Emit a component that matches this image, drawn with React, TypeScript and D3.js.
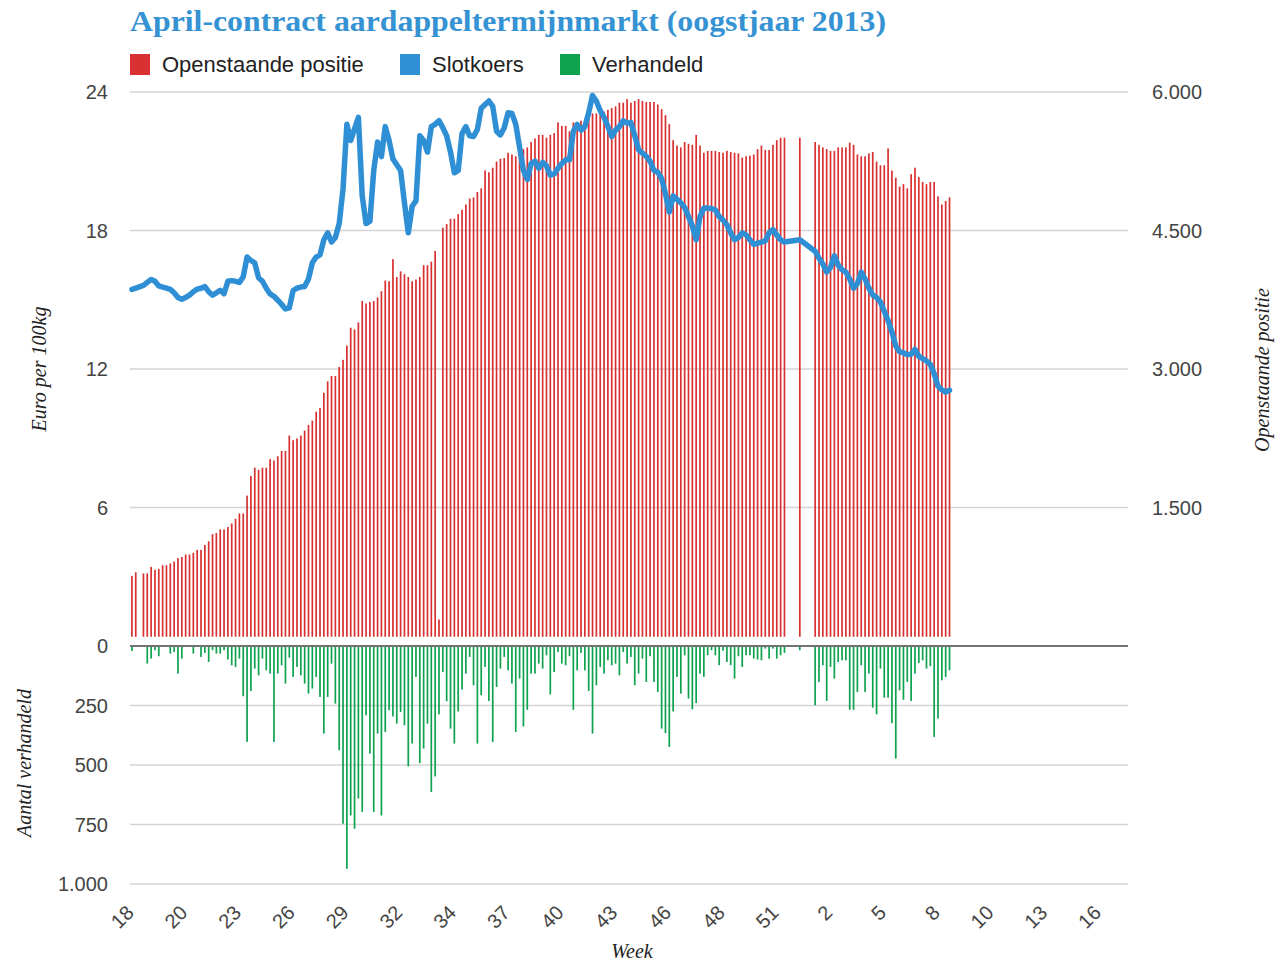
import React, { useEffect, useRef } from 'react';
import * as d3 from 'd3';

// x axis = trading-day slots (Mon-Fri) starting Mon 29 apr 2013, 52 weeks
const SLOTS = 260;
const TICK_STEP = 14;

const weekLabels = ['18', '20', '23', '26', '29', '32', '34', '37', '40', '43', '46', '48', '51', '2', '5', '8', '10', '13', '16'];
const priceTicks = [0, 6, 12, 18, 24];
const oiTicks = [1500, 3000, 4500, 6000];
const volumeTicks = [250, 500, 750, 1000];

// Openstaande positie (contracts), one value per trading day, null = no data
const openInterest: (number | null)[] = [
  759, 798, null, 786, 786, 856, 825, 836, 875, 875,
  894, 914, 952, 964, 991, 991, 1010, 1041, 1041, 1095,
  1134, 1211, 1223, 1262, 1262, 1289, 1327, 1378, 1436, 1436,
  1629, 1842, 1931, 1908, 1931, 1931, 2024, 2008, 2055, 2113,
  2113, 2279, 2229, 2248, 2279, 2333, 2395, 2441, 2538, 2577,
  2743, 2867, 2925, 2925, 3022, 3099, 3254, 3447, 3428, 3505,
  3737, 3710, 3726, 3737, 3776, 3842, 3958, 3950, 4190, 3996,
  4058, 4027, 3996, 3950, 3969, 3996, 4124, 4124, 4163, 4279,
  287, 4530, 4569, 4627, 4627, 4677, 4724, 4782, 4847, 4859,
  4917, 4956, 5150, 5130, 5180, 5246, 5277, 5284, 5342, 5323,
  5304, 5323, 5381, 5400, 5458, 5497, 5536, 5536, 5505, 5536,
  5555, 5671, 5633, 5633, 5575, 5671, 5652, 5690, 5710, 5749,
  5768, 5768, 5807, 5787, 5807, 5826, 5845, 5884, 5884, 5923,
  5884, 5903, 5923, 5903, 5892, 5892, 5892, 5865, 5814, 5749,
  5652, 5478, 5420, 5400, 5458, 5439, 5428, 5536, 5420, 5342,
  5362, 5362, 5362, 5350, 5342, 5362, 5350, 5342, 5335, 5290,
  5304, 5311, 5323, 5381, 5420, 5373, 5373, 5428, 5478, 5505,
  5505, null, null, null, 5505, null, null, null, 5458, 5428,
  5400, 5381, 5362, 5362, 5400, 5400, 5400, 5451, 5428, 5323,
  5304, 5304, 5335, 5350, 5246, 5207, 5207, 5389, 5149, 5072,
  4975, 5002, 4956, 5110, 5180, 5079, 5025, 5002, 5025, 5025,
  4870, 4782, 4820, 4859,
];

// Slotkoers (euro per 100kg)
const closePrice: (number | null)[] = [
  15.45, 15.5, null, 15.62, 15.75, 15.88, 15.8, 15.6, 15.55, 15.5,
  15.45, 15.3, 15.1, 15.02, 15.1, 15.2, 15.35, 15.46, 15.5, 15.57,
  15.35, 15.2, 15.3, 15.41, 15.26, 15.8, 15.83, 15.8, 15.75, 16.0,
  16.85, 16.7, 16.6, 15.95, 15.8, 15.5, 15.25, 15.15, 14.98, 14.8,
  14.6, 14.65, 15.4, 15.5, 15.55, 15.57, 15.9, 16.6, 16.85, 16.95,
  17.6, 17.9, 17.5, 17.7, 18.3, 19.8, 22.6, 21.9, 22.4, 22.9,
  19.5, 18.3, 18.4, 20.6, 21.83, 21.2, 22.5, 21.9, 21.1, 20.85,
  20.6, 19.2, 17.9, 19.05, 19.28, 22.1, 21.9, 21.4, 22.5, 22.6,
  22.76, 22.45, 22.1, 21.4, 20.5, 20.6, 22.2, 22.5, 22.1, 22.07,
  22.38, 23.3, 23.46, 23.61, 23.38, 22.3, 22.14, 22.45, 23.1, 23.07,
  22.6, 21.6, 20.6, 20.21, 20.9, 21.0, 20.7, 20.95, 20.8, 20.4,
  20.45, 20.7, 20.9, 21.06, 21.06, 22.3, 22.6, 22.35, 22.5, 23.1,
  23.85, 23.6, 23.2, 22.9, 22.5, 22.07, 22.35, 22.5, 22.75, 22.65,
  22.68, 22.1, 21.5, 21.35, 21.21, 21.0, 20.6, 20.52, 20.25, 19.6,
  18.8, 19.5, 19.35, 19.2, 19.0, 18.6, 18.2, 17.6, 18.6, 18.97,
  18.97, 18.95, 18.89, 18.6, 18.45, 18.25, 17.9, 17.6, 17.7, 17.89,
  17.81, 17.6, 17.4, 17.45, 17.5, 17.55, 17.9, 18.04, 17.8, 17.6,
  17.5, null, null, null, 17.6, null, null, null, 17.1, 16.8,
  16.55, 16.2, 16.4, 16.9, 16.5, 16.3, 16.2, 15.9, 15.5, 15.7,
  16.2, 15.9, 15.5, 15.2, 15.1, 14.9, 14.5, 14.1, 13.6, 13.0,
  12.75, 12.7, 12.63, 12.63, 12.85, 12.55, 12.45, 12.35, 12.2, 11.8,
  11.25, 11.1, 11.0, 11.08,
];

// Verhandeld (contracts traded)
const volume: (number | null)[] = [
  21, 0, null, 0, 74, 53, 18, 43, 0, 0,
  32, 25, 116, 53, 0, 0, 32, 0, 46, 29,
  67, 18, 32, 32, 18, 57, 81, 88, 53, 211,
  403, 189, 95, 123, 53, 102, 116, 403, 116, 81,
  158, 49, 130, 88, 123, 158, 200, 179, 130, 214,
  368, 214, 74, 242, 438, 747, 936, 712, 768, 641,
  697, 291, 452, 697, 368, 712, 361, 270, 296, 326,
  277, 333, 506, 410, 130, 492, 431, 326, 613, 548,
  287, 109, 232, 347, 410, 275, 183, 116, 46, 165,
  410, 207, 88, 231, 403, 172, 95, 46, 102, 158,
  361, 137, 338, 268, 116, 116, 74, 95, 39, 203,
  109, 25, 74, 81, 43, 268, 102, 29, 102, 189,
  368, 165, 88, 116, 60, 81, 74, 123, 25, 74,
  46, 165, 116, 53, 151, 43, 151, 193, 347, 366,
  424, 275, 130, 200, 39, 221, 266, 240, 116, 130,
  39, 18, 39, 81, 20, 67, 81, 137, 43, 88,
  39, 39, 53, 57, 60, 11, 53, 11, 53, 39,
  29, null, null, null, 18, null, null, null, 249, 151,
  81, 231, 88, 137, 67, 60, 60, 268, 268, 193,
  81, 193, 116, 259, 287, 95, 217, 217, 324, 473,
  186, 226, 151, 231, 116, 71, 60, 95, 85, 382,
  305, 144, 130, 102,
];

const RED = '#d93131';
const BLUE = '#2f8fd5';
const GREEN = '#0ea24f';
const OI_BASE = 100; // red columns start just above the zero line

const App: React.FC = () => {
  const svgRef = useRef<SVGSVGElement>(null);

  useEffect(() => {
    if (!svgRef.current) return;
    const svg = d3.select(svgRef.current);
    svg.selectAll('*').remove();

    const left = 130;
    const right = 1128;
    const sans = "'Liberation Sans', Arial, sans-serif";
    const serif = "'Liberation Serif', 'Times New Roman', serif";

    const x = d3.scaleBand<number>().domain(d3.range(SLOTS)).range([left, right]);
    const cx = (i: number) => (x(i) as number) + x.bandwidth() / 2;
    const yPrice = d3.scaleLinear().domain([0, 24]).range([646, 92]);
    const yOI = d3.scaleLinear().domain([0, 6000]).range([646, 92]);
    const yVol = d3.scaleLinear().domain([0, 1000]).range([646, 884]);

    // Title
    svg.append('text')
      .attr('x', left)
      .attr('y', 31)
      .attr('font-family', serif)
      .attr('font-weight', 'bold')
      .attr('font-size', 29)
      .attr('fill', '#3592d3')
      .attr('textLength', 756)
      .attr('lengthAdjust', 'spacingAndGlyphs')
      .text('April-contract aardappeltermijnmarkt (oogstjaar 2013)');

    // Legend
    const legend = [
      { label: 'Openstaande positie', color: RED, x: 130 },
      { label: 'Slotkoers', color: BLUE, x: 400 },
      { label: 'Verhandeld', color: GREEN, x: 560 },
    ];
    const lg = svg.append('g');
    legend.forEach(d => {
      lg.append('rect').attr('x', d.x).attr('y', 54).attr('width', 20).attr('height', 21).attr('fill', d.color);
      lg.append('text')
        .attr('x', d.x + 32)
        .attr('y', 72)
        .attr('font-family', sans)
        .attr('font-size', 22)
        .attr('fill', '#222')
        .text(d.label);
    });

    // Gridlines
    const grid = svg.append('g');
    priceTicks.filter(t => t > 0).forEach(t => {
      grid.append('line').attr('x1', left).attr('x2', right)
        .attr('y1', yPrice(t)).attr('y2', yPrice(t))
        .attr('stroke', '#d4d4d4').attr('stroke-width', 1.5);
    });
    volumeTicks.forEach(t => {
      grid.append('line').attr('x1', left).attr('x2', right)
        .attr('y1', yVol(t)).attr('y2', yVol(t))
        .attr('stroke', '#d4d4d4').attr('stroke-width', 1.5);
    });

    // Open interest columns
    const oiData = openInterest.map((v, i) => ({ i, v })).filter(d => d.v !== null) as { i: number; v: number }[];
    svg.append('g').selectAll('rect')
      .data(oiData)
      .enter()
      .append('rect')
      .attr('x', d => cx(d.i) - 0.85)
      .attr('width', 1.7)
      .attr('y', d => yOI(d.v))
      .attr('height', d => yOI(OI_BASE) - yOI(d.v))
      .attr('fill', RED);

    // Volume columns (downwards)
    const volData = volume.map((v, i) => ({ i, v })).filter(d => d.v !== null && d.v > 0) as { i: number; v: number }[];
    svg.append('g').selectAll('rect')
      .data(volData)
      .enter()
      .append('rect')
      .attr('x', d => cx(d.i) - 0.85)
      .attr('width', 1.7)
      .attr('y', yVol(0) + 1)
      .attr('height', d => Math.max(0, yVol(d.v) - yVol(0) - 1))
      .attr('fill', GREEN);

    // Zero line
    svg.append('line')
      .attr('x1', left).attr('x2', right)
      .attr('y1', yPrice(0)).attr('y2', yPrice(0))
      .attr('stroke', '#444').attr('stroke-width', 1.3);

    // Price line
    const priceData = closePrice.map((v, i) => ({ i, v })).filter(d => d.v !== null) as { i: number; v: number }[];
    const line = d3.line<{ i: number; v: number }>()
      .x(d => cx(d.i))
      .y(d => yPrice(d.v));
    svg.append('path')
      .datum(priceData)
      .attr('d', line)
      .attr('fill', 'none')
      .attr('stroke', BLUE)
      .attr('stroke-width', 5.5)
      .attr('stroke-linejoin', 'round')
      .attr('stroke-linecap', 'round');

    // Left axis labels
    const axisText = (sel: d3.Selection<SVGGElement, unknown, null, undefined>) =>
      sel.attr('font-family', sans).attr('font-size', 20).attr('fill', '#444');
    const la = svg.append('g').call(axisText);
    priceTicks.forEach(t => {
      la.append('text').attr('x', 108).attr('y', yPrice(t)).attr('dy', '0.36em')
        .attr('text-anchor', 'end').text(d3.format(',')(t));
    });
    const deFormat = (t: number) => d3.format(',')(t).replace(',', '.');
    volumeTicks.forEach(t => {
      la.append('text').attr('x', 108).attr('y', yVol(t)).attr('dy', '0.36em')
        .attr('text-anchor', 'end').text(deFormat(t));
    });

    // Right axis labels
    const ra = svg.append('g').call(axisText);
    oiTicks.forEach(t => {
      ra.append('text').attr('x', 1152).attr('y', yOI(t)).attr('dy', '0.36em')
        .attr('text-anchor', 'start').text(deFormat(t));
    });

    // X axis labels (week numbers)
    const xa = svg.append('g').call(axisText);
    weekLabels.forEach((lab, k) => {
      const px = x(k * TICK_STEP) as number;
      xa.append('text')
        .attr('transform', `translate(${px + 5},${914}) rotate(-45)`)
        .attr('text-anchor', 'end')
        .text(lab);
    });

    // Axis titles
    const titleStyle = (t: d3.Selection<SVGTextElement, unknown, null, undefined>) =>
      t.attr('font-family', serif).attr('font-style', 'italic').attr('font-size', 20)
        .attr('fill', '#222').attr('text-anchor', 'middle');
    svg.append('text').call(titleStyle)
      .attr('transform', 'translate(46,369) rotate(-90)')
      .text('Euro per 100kg');
    svg.append('text').call(titleStyle)
      .attr('transform', 'translate(1269,370) rotate(-90)')
      .text('Openstaande positie');
    svg.append('text').call(titleStyle)
      .attr('transform', 'translate(31,763) rotate(-90)')
      .text('Aantal verhandeld');
    svg.append('text').call(titleStyle)
      .attr('x', 632).attr('y', 958)
      .text('Week');
  }, []);

  return (
    <div style={{ position: 'absolute', left: 0, top: 0, width: 1276, height: 965, background: '#fff' }}>
      <svg ref={svgRef} width={1276} height={965}></svg>
    </div>
  );
};

export default App;
